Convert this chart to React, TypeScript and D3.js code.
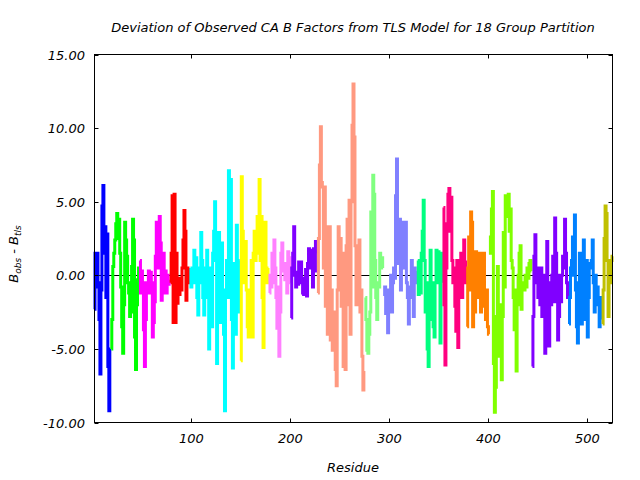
import React from "react";
import * as d3 from "d3";

const groupStart = [2, 19, 48, 79, 99, 150, 179, 201, 228, 276, 295, 329, 355, 379, 402, 445, 482, 516];
const groupColors = [
  "#0000ff", "#00ff00", "#ff00ff", "#ff0000", "#00ffff", "#ffff00", "#ff80ff", "#8000ff", "#ff9980",
  "#80ff80", "#8080ff", "#00ff80", "#ff0080", "#ff8000", "#80ff00", "#8000ff", "#0080ff", "#c0c000",
];

const g01 = [-2.3, 1.5, -0.8, 1.5, -0.5, -3.0, -6.7, -1.0, 4.7, 6.1, 1.5, 3.3, -1.5, 2.8, -6.2, -9.2, -5.0];
const g02 = [-5.0, -3.0, 0.6, 1.5, 2.4, 3.5, 4.2, 2.5, 3.8, 1.5, -0.8, -3.5, -5.3, -2.0, 3.6, 2.4, 1.3, -0.5, -1.2, -2.8, -2.5, 0.6, 3.8, 2.4, -4.2, -6.4, -2.0, -0.3, 0.5];
const g03 = [1.0, -1.2, 0.3, -0.5, -3.7, -6.2, -3.0, -0.5, -1.2, 0.3, -1.2, 0.2, -0.5, -4.2, -3.2, -1.8, 1.3, 3.6, 2.0, 0.5, 4.0, 2.2, -1.7, -0.5, 1.5, -1.2, 0.3, -1.2, 0.0, -0.6, -0.3];
const g04 = [-0.5, 1.5, 5.4, -3.2, 5.5, -3.2, 1.5, -1.9, -0.8, -1.3, -0.2, -1.0, 0.5, 2.4, 4.4, 3.0, -1.7, 0.5, -0.5, 0.5];
const g05 = [0.5, -0.8, 0.3, -0.5, 1.7, 0.5, 1.2, -1.5, -2.7, -0.5, 0.5, 2.9, 1.0, -1.5, -2.7, -1.0, 0.5, 1.7, -1.5, -5.0, -2.0, 0.5, -3.5, 1.5, 3.0, 5.0, 1.0, -6.0, -1.0, 2.9, 1.0, -3.2, 2.2, -1.0, -4.0, -9.2, -1.0, 1.0, -1.5, 7.1, 2.0, 6.5, -3.0, -6.3, -2.5, 0.8, -4.0, 3.4, 0.5, -2.5, 1.0];
const g06 = [-5.8, 6.7, 3.0, -0.5, 1.5, 2.3, -1.0, -3.5, -4.2, -2.0, -1.0, 1.0, -4.2, 1.5, 3.0, 1.0, 1.5, 4.0, 3.0, 6.5, 1.0, 4.0, -1.5, -4.9, 1.5, 3.6, 0.5, -0.5, 0.5];
const g07 = [-1.2, 0.0, -0.8, 1.5, -0.5, 2.4, 0.5, -1.5, -3.6, -0.8, -5.5, -2.5, 1.5, 2.2, 0.3, 0.8, -0.3, 0.2, -1.2, 1.6, 1.2, -0.5];
const g08 = [-2.9, 0.5, 1.5, 3.3, 0.0, -0.8, 0.2, -0.6, 0.9, 0.0, 0.9, -0.5, -1.2, -1.3, -0.2, 0.4, -1.4, 0.8, 1.8, 0.5, 1.7, 0.8, -0.8, 1.8, 0.3, 2.3, 1.5];
const g09 = [-1.2, 2.5, 7.5, 10.1, 6.3, 6.0, 0.5, 6.0, -2.1, 3.3, -4.0, 0.0, 3.3, -4.4, -1.0, -5.1, -2.5, -4.0, -6.4, -7.5, -1.0, 3.3, -0.5, 2.5, -2.1, 1.5, -6.2, -3.0, -6.4, 2.0, 3.8, -2.0, 5.1, -4.0, 5.0, 10.2, 13.0, 9.4, 2.0, -2.0, 1.5, -0.5, 2.4, -2.5, -1.0, -5.5, -7.8, -6.5];
const g10 = [-1.5, -3.0, -5.1, -5.3, -4.0, -2.5, 4.3, -0.8, 6.8, 5.5, 1.0, -1.5, -3.0, -0.5, -0.8, 1.5, 0.8, 1.2, 0.5];
const g11 = [-1.4, -0.8, -2.6, -1.5, -3.9, -1.0, -2.0, 0.0, -2.5, -0.5, 0.5, -0.2, 5.4, 7.9, 2.5, 0.8, 3.8, -1.0, 2.5, 1.5, 3.6, 0.5, 3.6, -0.5, -1.5, -3.3, -1.5, -0.8, 1.0, -0.5, -2.8, 0.5, -0.5, 0.3];
const g12 = [1.0, -1.3, 0.5, -1.2, 1.5, 3.0, 5.1, 1.0, -2.5, -0.5, -5.0, -6.2, -0.5, 1.7, -3.0, -0.5, -3.5, -4.2, -0.5, 1.7, 0.0, 1.6, -0.5, -4.6, 1.5, -0.5];
const g13 = [4.6, -2.0, -6.1, 0.5, 3.5, 5.5, 5.9, 3.0, 5.3, 1.0, -0.5, 0.5, -2.1, -3.8, 1.0, -4.9, -1.0, 1.0, 1.5, -1.5, 1.2, 2.4, -0.5, 1.0];
const g14 = [-3.5, 0.5, 2.6, -1.0, 4.3, 3.6, -3.5, -1.2, -2.5, 1.6, 0.0, 1.5, -1.5, 1.5, -2.5, 1.0, -0.5, 1.5, -2.1, -3.0, -1.0, -3.5, -4.0];
const g15 = [2.7, 1.5, 4.5, 5.7, -6.0, -9.3, -7.6, -2.8, 0.6, -2.8, -5.5, -2.0, -7.1, -2.8, 2.9, -0.8, 5.4, 4.0, 5.2, 5.5, 3.0, 4.5, 1.0, 0.5, -1.5, -3.7, -1.0, -6.5, -2.0, 0.0, 1.5, 2.0, -2.3, -0.5, -1.0, -1.0, 0.0, -0.8, 0.5, -0.2, 0.8, 1.0, 0.3];
const g16 = [-6.2, -2.8, 1.3, 2.75, 0.5, -0.5, -1.5, 0.5, -2.0, 0.5, -2.8, 0.0, -1.5, -5.3, -1.0, 2.3, -3.9, -4.8, -0.5, -2.0, 0.0, 1.3, -1.8, 3.9, 1.5, -1.8, -4.4, -2.8, 0.0, -1.8, 0.0, 1.3, 0.5, 3.8, 1.5, -0.5, -1.5];
const g17 = [-3.3, -1.5, 0.5, 1.0, 2.6, 0.0, 4.1, -1.0, -3.5, -4.6, -0.5, 1.5, -0.8, -3.3, -2.0, 2.4, -0.5, -3.0, 1.0, -4.2, -1.5, 0.5, 0.8, 1.0, 2.4, -0.5, -2.5, 0.0, -1.5, -0.8, -2.0, -3.5, -1.5, -3.0];
const g18 = [-3.3, -1.0, 2.5, 4.7, 4.2, 1.0, -2.8, 0.0, -0.5, 1.0, 1.3];

const groups = [g01, g02, g03, g04, g05, g06, g07, g08, g09, g10, g11, g12, g13, g14, g15, g16, g17, g18];

const xTicks = [100, 200, 300, 400, 500];
const yTicks = [-10, -5, 0, 5, 10, 15];

const W = 640;
const H = 480;
const left = 94.5;
const right = 612.5;
const top = 54.5;
const bottom = 422.5;
const FONT = "'DejaVu Sans', sans-serif";

export default function App() {
  const x = d3.scaleLinear().domain([2, 526]).range([left, right]);
  const y = d3.scaleLinear().domain([-10, 15]).range([bottom, top]);

  const line = d3
    .line<[number, number]>()
    .x((d) => x(d[0]))
    .y((d) => y(d[1]))
    .curve(d3.curveStep);

  const paths = groups.map((vals, gi) => {
    const pts: [number, number][] = vals.map((v, i) => [groupStart[gi] + i, v]);
    return line(pts) as string;
  });

  return (
    <svg
      width={W}
      height={H}
      style={{ position: "absolute", left: 0, top: 0, background: "#fff" }}
      fontFamily={FONT}
    >
      <rect x={0} y={0} width={W} height={H} fill="#fff" />
      <line x1={left} x2={right} y1={Math.round(y(0)) + 0.5} y2={Math.round(y(0)) + 0.5} stroke="#000" strokeWidth={1} />
      {paths.map((p, i) => (
        <path
          key={i}
          d={p}
          fill="none"
          stroke={groupColors[i]}
          strokeWidth={3}
          strokeLinejoin="miter"
          strokeLinecap="butt"
        />
      ))}
      <rect x={left} y={top} width={right - left} height={bottom - top} fill="none" stroke="#000" strokeWidth={1} />
      {yTicks.map((t) => {
        const yy = Math.round(y(t)) + 0.5;
        return (
          <g key={"y" + t}>
            <line x1={left} x2={left + 4} y1={yy} y2={yy} stroke="#000" />
            <line x1={right - 4} x2={right} y1={yy} y2={yy} stroke="#000" />
            <text x={85} y={yy} dy="0.35em" textAnchor="end" fontSize={13} fontStyle="italic" fill="#000">
              {d3.format(".2f")(t).replace("\u2212", "-")}
            </text>
          </g>
        );
      })}
      {xTicks.map((t) => {
        const xx = Math.round(x(t)) + 0.5;
        return (
          <g key={"x" + t}>
            <line x1={xx} x2={xx} y1={bottom} y2={bottom - 4} stroke="#000" />
            <line x1={xx} x2={xx} y1={top} y2={top + 4} stroke="#000" />
            <text x={xx} y={438} dy="0.35em" textAnchor="middle" fontSize={13} fontStyle="italic" fill="#000">
              {t}
            </text>
          </g>
        );
      })}
      <text x={353} y={27} dy="0.35em" textAnchor="middle" fontSize={13} fontStyle="italic" fill="#000">
        Deviation of Observed CA B Factors from TLS Model for 18 Group Partition
      </text>
      <text x={353} y={467} dy="0.35em" textAnchor="middle" fontSize={13} fontStyle="italic" fill="#000">
        Residue
      </text>
      <text transform="translate(18,254) rotate(-90)" textAnchor="middle" fontSize={13} fontStyle="italic" fill="#000">
        <tspan>B</tspan>
        <tspan fontSize={9} dy={3}>obs</tspan>
        <tspan dy={-3}> - B</tspan>
        <tspan fontSize={9} dy={3}>tls</tspan>
      </text>
    </svg>
  );
}
